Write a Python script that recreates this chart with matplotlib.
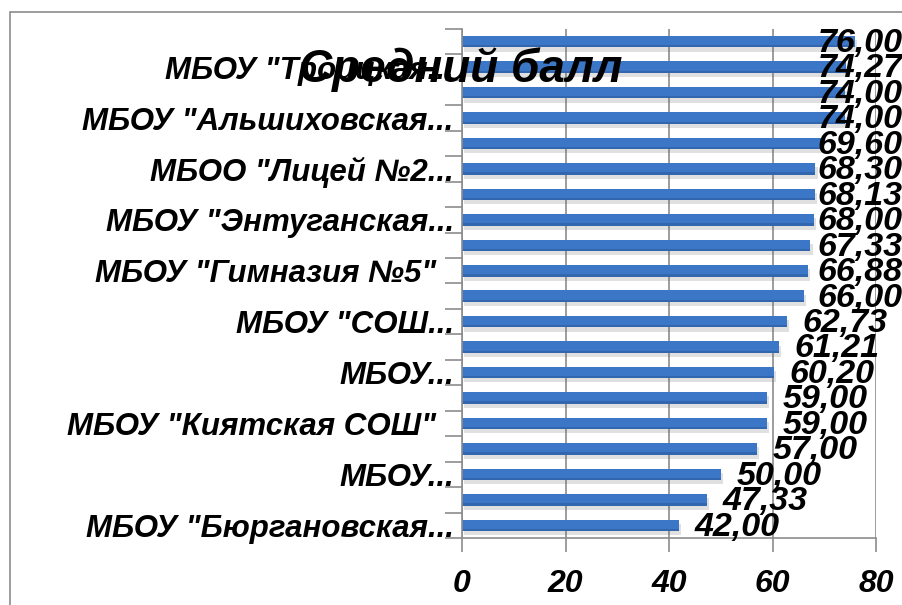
import matplotlib
matplotlib.use("Agg")
import matplotlib.pyplot as plt
import matplotlib.patheffects as pe
from matplotlib.patches import Rectangle

# ---- data (bottom to top) ----
values = [42.00, 47.33, 50.00, 57.00, 59.00, 59.00, 60.20, 61.21, 62.73, 66.00,
          66.88, 67.33, 68.00, 68.13, 68.30, 69.60, 74.00, 74.00, 74.27, 76.00]
category_labels = ['МБОУ "Бюргановская...', '', 'МБОУ...', '', 'МБОУ "Киятская СОШ"  ', '',
                   'МБОУ...', '', 'МБОУ "СОШ...', '', 'МБОУ "Гимназия №5"  ', '',
                   'МБОУ "Энтуганская...', '', 'МБОО "Лицей №2...', '',
                   'МБОУ "Альшиховская...', '', 'МБОУ "Троицкая...', '']
value_texts = [f"{v:.2f}".replace('.', ',') for v in values]
title = "Средний балл"
x_ticks = [0, 20, 40, 60, 80]

FONT = "Liberation Sans"
W, H = 903, 605
fig = plt.figure(figsize=(W / 100, H / 100), dpi=100)
fig.patch.set_facecolor("white")

# outer chart border
fig.patches.append(Rectangle((10 / W, -0.1), 1.2, 1 - 12 / H + 0.1, transform=fig.transFigure,
                             fill=False, edgecolor="#8c8c8c", linewidth=1.2))

ax = fig.add_axes([462 / W, (H - 538) / H, (876 - 462) / W, (538 - 29) / H])
n = len(values)
pos = list(range(n))
bar_h = 0.45
bars = ax.barh(pos, values, height=bar_h, color="#3B77C6", zorder=3)
for b in bars:
    b.set_path_effects([pe.SimplePatchShadow(offset=(1.5, -3), shadow_rgbFace="#666666", alpha=0.2),
                        pe.Normal()])
# slightly darker lower edge for the bevel look
ax.barh([p - bar_h * 0.4 for p in pos], values, height=bar_h * 0.2, color="#3266AE", zorder=3.5)

ax.set_xlim(0, 80)
ax.set_ylim(-0.5, n - 0.5)
ax.set_xticks(x_ticks)
ax.set_xticklabels([str(t) for t in x_ticks], fontsize=23, fontweight="bold",
                   fontstyle="italic", family=FONT)
ax.tick_params(axis="x", length=10, color="#8c8c8c", pad=12, width=1.2)

# category ticks at boundaries, labels at centers
ax.set_yticks([p - 0.5 for p in pos] + [n - 0.5])
ax.set_yticklabels([])
ax.tick_params(axis="y", length=12, color="#8c8c8c", width=1.2)
ax.set_yticks(pos, minor=True)
ax.set_yticklabels(category_labels, minor=True, fontsize=22.5, fontweight="bold",
                   fontstyle="italic", family=FONT)
ax.tick_params(axis="y", which="minor", length=0, pad=6)

ax.grid(axis="x", color="#8c8c8c", linewidth=1.2, zorder=0)
for s in ["top", "right"]:
    ax.spines[s].set_visible(False)
for s in ["left", "bottom"]:
    ax.spines[s].set_color("#8c8c8c")
    ax.spines[s].set_linewidth(1.2)
    ax.spines[s].set_zorder(4)

# value labels
cap = 68.7
for p, v, t in zip(pos, values, value_texts):
    ax.text(min(v + 3, cap), p - 0.07, t, ha="left", va="center", fontsize=24.5,
            fontweight="bold", fontstyle="italic", family=FONT, zorder=5, clip_on=False)

fig.text(461 / W, 1 - 82 / H, title, ha="center", va="baseline", fontsize=33,
         fontweight="bold", fontstyle="italic", family=FONT, zorder=10)

fig.savefig("out.png", dpi=100)
